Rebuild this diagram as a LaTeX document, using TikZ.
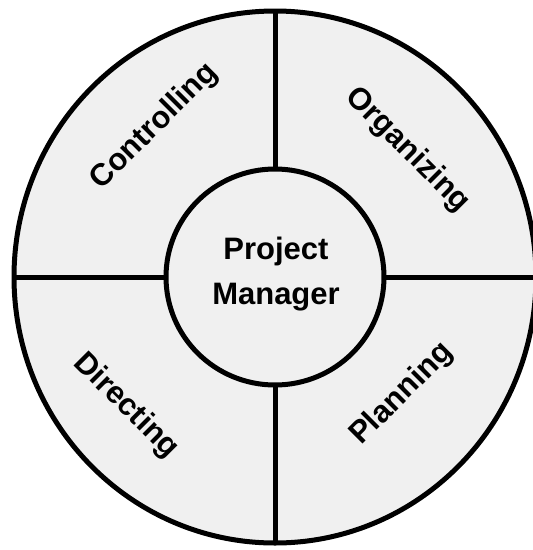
\documentclass[tikz,border=0pt]{standalone}
\usepackage{fontspec}
\setmainfont{Liberation Sans}
\usetikzlibrary{shapes.geometric}
\definecolor{wheelfill}{RGB}{240,240,240}
\begin{document}
\begin{tikzpicture}[x=1pt,y=-1pt,
  ring/.style={ellipse, draw=black, line width=5pt, fill=wheelfill, outer sep=0pt, inner sep=0pt},
  divider/.style={draw=black, line width=5pt},
  lbl/.style={font=\fontsize{31}{37}\selectfont\bfseries, inner sep=0pt}]
\useasboundingbox (0,0) rectangle (533,550);
\node[ring, minimum width=522pt, minimum height=532pt] (outer) at (275,277) {};
\node[ring, minimum width=218pt, minimum height=216pt] (inner) at (275,277) {};
\draw[divider] (inner.north) -- (outer.north);
\draw[divider] (inner.south) -- (outer.south);
\draw[divider] (inner.west) -- (outer.west);
\draw[divider] (inner.east) -- (outer.east);
\node[lbl, rotate=45] (ctrl) at (154.5,126.7) {Controlling};
\node[lbl, rotate=-45] (org) at (407.5,150) {Organizing};
\node[lbl, rotate=-45] (dir) at (126,406) {Directing};
\node[lbl, rotate=45] (plan) at (402,394) {Planning};
\node[lbl, align=center, font=\fontsize{31}{44.7}\selectfont\bfseries] (pm) at (276,273.7) {Project\\Manager};
\end{tikzpicture}
\end{document}
